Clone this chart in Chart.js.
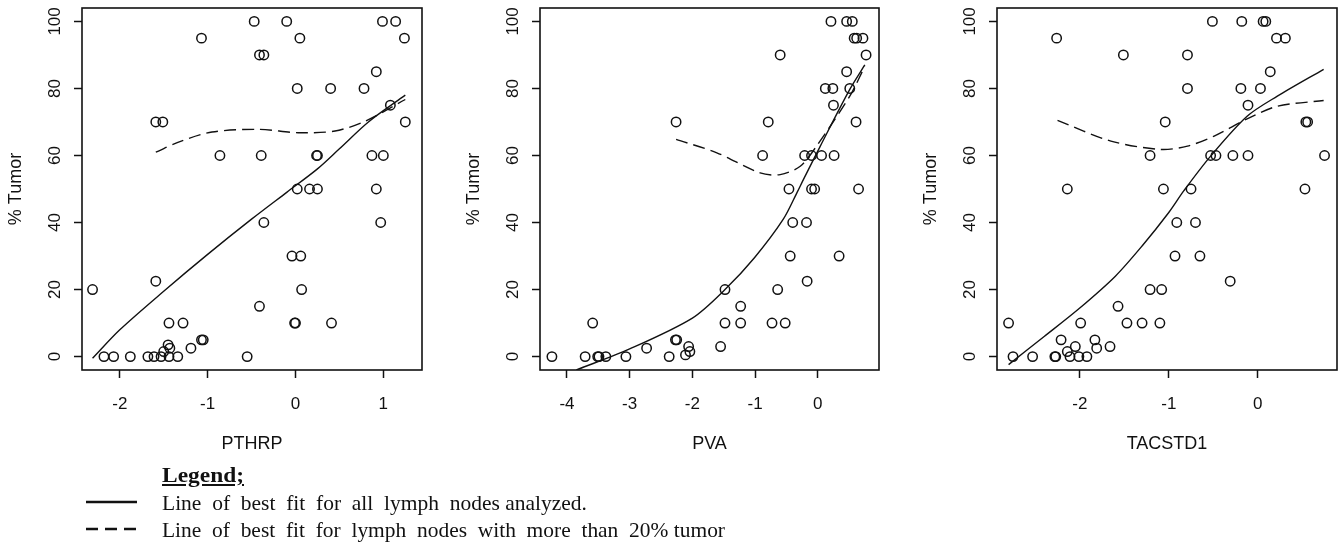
<!DOCTYPE html>
<html>
<head>
<meta charset="utf-8">
<script src="https://cdn.jsdelivr.net/npm/chart.js@4.4.0/dist/chart.umd.min.js"></script>
<style>
  html, body { margin: 0; padding: 0; background: #fff; }
  body { width: 1344px; height: 549px; position: relative; overflow: hidden; }
  canvas { position: absolute; top: 0; }
  .lg { position: absolute; font-family: "Liberation Serif", "Times New Roman", serif; font-size: 22px; line-height: 26px; color: #111; white-space: pre; transform-origin: 0 50%; }
  .lg-title { font-weight: bold; text-decoration: underline; }
  svg.sample { position: absolute; }
</style>
</head>
<body>
<canvas id="c1" width="440" height="470" style="left:0px"></canvas>
<canvas id="c2" width="439" height="470" style="left:458px"></canvas>
<canvas id="c3" width="429" height="470" style="left:915px"></canvas>

<span class="lg lg-title" style="left:162px; top:462px" data-w="82">Legend;</span>
<svg class="sample" style="left:84px; top:496px" width="56" height="12"><line x1="2" y1="6" x2="53" y2="6" stroke="#111" stroke-width="2.4"/></svg>
<span class="lg" style="left:162px; top:490px" data-w="425">Line  of  best  fit  for  all  lymph  nodes analyzed.</span>
<svg class="sample" style="left:84px; top:523px" width="56" height="12"><line x1="2" y1="6" x2="53" y2="6" stroke="#111" stroke-width="2.4" stroke-dasharray="12 7"/></svg>
<span class="lg" style="left:162px; top:517px" data-w="563">Line  of  best  fit  for  lymph  nodes  with  more  than  20% tumor</span>

<script>
// PTHRP panel
const pthrpX = [-0.47, -0.10, 0.99, 1.14, -1.07, 0.05, 1.24, -0.41, -0.36, 0.92,
  0.02, 0.40, 0.78, 1.08, -1.59, -1.51, 1.25, -0.86, -0.39, 0.24,
  0.25, 0.87, 1.00, 0.02, 0.16, 0.25, 0.92, 0.97, -0.36, -0.04,
  0.06, -2.31, 0.07, -1.59, -0.41, -0.01, 0.00, 0.41, -1.44, -1.28,
  -1.07, -1.05, -1.19, -1.45, -1.43, -1.50, -2.18, -2.07, -1.88, -1.68,
  -1.61, -1.53, -1.44, -1.34, -0.55];
const pthrpY = [100, 100, 100, 100, 95, 95, 95, 90, 90, 85,
  80, 80, 80, 75, 70, 70, 70, 60, 60, 60,
  60, 60, 60, 50, 50, 50, 50, 40, 40, 30,
  30, 20, 20, 22.5, 15, 10, 10, 10, 10, 10,
  5, 5, 2.5, 3.5, 2.5, 1.5, 0, 0, 0, 0,
  0, 0, 0, 0, 0];
const pthrpAllX = [-2.31, -2.0, -1.5, -1.0, -0.5, -0.1, 0.25, 0.5, 0.83, 1.25];
const pthrpAllY = [-0.5, 8, 19.5, 30.5, 41, 49, 56, 62, 70, 78];
const pthrpHighX = [-1.59, -1.3, -0.95, -0.42, 0.03, 0.45, 0.79, 1.25];
const pthrpHighY = [61, 64.3, 67, 67.8, 66.8, 67.3, 70.2, 76.7];

// PVA panel
const pvaX = [0.21, 0.46, 0.55, 0.58, 0.62, 0.72, 0.77, -0.60, 0.46, 0.12,
  0.24, 0.51, 0.25, -2.26, -0.79, 0.61, -0.88, -0.21, -0.10, 0.06,
  0.26, -0.46, -0.10, -0.05, 0.65, -0.40, -0.18, -0.44, 0.34, -0.17,
  -1.48, -0.64, -1.23, -1.48, -1.23, -0.73, -0.52, -3.59, -1.55, -2.27,
  -2.25, -2.73, -2.06, -2.04, -2.11, -2.37, -4.24, -3.71, -3.51, -3.49,
  -3.38, -3.06];
const pvaY = [100, 100, 100, 95, 95, 95, 90, 90, 85, 80,
  80, 80, 75, 70, 70, 70, 60, 60, 60, 60,
  60, 50, 50, 50, 50, 40, 40, 30, 30, 22.5,
  20, 20, 15, 10, 10, 10, 10, 10, 3, 5,
  5, 2.5, 3, 1.5, 0.5, 0, 0, 0, 0, 0,
  0, 0];
const pvaAllX = [-3.85, -3.0, -2.0, -1.48, -1.01, -0.55, -0.33, -0.23, 0.04, 0.51, 0.75];
const pvaAllY = [-4, 2.3, 11.5, 20, 29.5, 41, 49, 52.8, 62.8, 79.7, 87];
const pvaHighX = [-2.26, -1.61, -0.92, -0.60, -0.28, -0.02, 0.51, 0.75];
const pvaHighY = [64.8, 60.8, 54.8, 54.3, 56.8, 62.8, 77.7, 86.6];

// TACSTD1 panel
const tacX = [-0.51, -0.18, 0.06, 0.09, -2.26, 0.21, 0.31, -1.51, -0.79, 0.14,
  -0.79, -0.19, 0.03, -0.11, -1.04, 0.54, 0.56, -1.21, -0.53, -0.47,
  -0.28, -0.11, 0.75, -2.14, -1.06, -0.75, 0.53, -0.91, -0.70, -0.93,
  -0.65, -0.31, -1.21, -1.08, -1.57, -2.80, -1.99, -1.47, -1.30, -1.10,
  -2.21, -1.83, -1.66, -1.81, -2.14, -2.05, -2.75, -2.53, -2.28, -2.27,
  -2.11, -2.01, -1.92];
const tacY = [100, 100, 100, 100, 95, 95, 95, 90, 90, 85,
  80, 80, 80, 75, 70, 70, 70, 60, 60, 60,
  60, 60, 60, 50, 50, 50, 50, 40, 40, 30,
  30, 22.5, 20, 20, 15, 10, 10, 10, 10, 10,
  5, 5, 3, 2.5, 1.5, 3, 0, 0, 0, 0,
  0, 0, 0];
const tacAllX = [-2.80, -2.4, -2.0, -1.6, -1.3, -1.0, -0.83, -0.53, -0.12, 0.22, 0.74];
const tacAllY = [-2.4, 6, 14.5, 24, 33, 43, 49.5, 59.8, 71.7, 77.7, 85.7];
const tacHighX = [-2.25, -1.65, -1.09, -0.79, -0.49, -0.12, 0.22, 0.74];
const tacHighY = [70.5, 64.3, 61.8, 62.8, 65.8, 70.9, 74.7, 76.4];

const yTicks = [0, 20, 40, 60, 80, 100];
const pthrpTicks = [-2, -1, 0, 1];
const pvaTicks = [-4, -3, -2, -1, 0];
const tacTicks = [-2, -1, 0];

const ink = "#111";
const sans = "'Liberation Sans', Arial, sans-serif";

const boxPlugin = {
    id: "box",
    afterDraw(chart) {
        const { ctx, chartArea: a } = chart;
        ctx.save();
        ctx.strokeStyle = ink;
        ctx.lineWidth = 1.6;
        ctx.strokeRect(a.left, a.top, a.right - a.left, a.bottom - a.top);
        ctx.restore();
    }
};

function pairs(xs, ys) {
    return xs.map((x, i) => ({ x: x, y: ys[i] }));
}

function makeChart(id, xs, ys, allX, allY, highX, highY, xMin, xMax, xTicks, xName, padRight) {
    return new Chart(document.getElementById(id), {
        type: "scatter",
        data: {
            datasets: [
                {
                    data: pairs(xs, ys),
                    pointStyle: "circle",
                    pointRadius: 4.7,
                    borderColor: ink,
                    borderWidth: 1.5,
                    backgroundColor: "rgba(0,0,0,0)"
                },
                {
                    data: pairs(allX, allY),
                    showLine: true,
                    pointRadius: 0,
                    borderColor: ink,
                    borderWidth: 1.4,
                    tension: 0.3
                },
                {
                    data: pairs(highX, highY),
                    showLine: true,
                    pointRadius: 0,
                    borderColor: ink,
                    borderWidth: 1.4,
                    borderDash: [12, 6],
                    tension: 0.3
                }
            ]
        },
        options: {
            responsive: false,
            animation: false,
            layout: { padding: { left: 0, right: padRight, top: 8, bottom: 11 } },
            plugins: { legend: { display: false }, tooltip: { enabled: false } },
            scales: {
                x: {
                    type: "linear",
                    min: xMin,
                    max: xMax,
                    border: { display: false },
                    grid: { drawOnChartArea: false, tickLength: 8, color: ink, tickWidth: 1.5 },
                    ticks: { color: ink, font: { family: sans, size: 17 }, padding: 16 },
                    afterBuildTicks: s => { s.ticks = xTicks.map(v => ({ value: v })); },
                    afterFit: s => { s.height = 89; s.paddingLeft = 0; s.paddingRight = 0; },
                    title: { display: true, text: xName, color: ink, font: { family: sans, size: 18 }, padding: { top: 0, bottom: 4 } }
                },
                y: {
                    type: "linear",
                    min: -4,
                    max: 104,
                    border: { display: false },
                    grid: { drawOnChartArea: false, tickLength: 8, color: ink, tickWidth: 1.5 },
                    ticks: {
                        color: ink, font: { family: sans, size: 17 }, padding: 5,
                        minRotation: 90, maxRotation: 90, crossAlign: "center"
                    },
                    afterBuildTicks: s => { s.ticks = yTicks.map(v => ({ value: v })); },
                    afterFit: s => { s.width = 82; s.paddingTop = 0; s.paddingBottom = 0; },
                    title: { display: true, text: "% Tumor", color: ink, font: { family: sans, size: 18 }, padding: { top: 5, bottom: 0 } }
                }
            }
        },
        plugins: [boxPlugin]
    });
}

makeChart("c1", pthrpX, pthrpY, pthrpAllX, pthrpAllY, pthrpHighX, pthrpHighY, -2.43, 1.44, pthrpTicks, "PTHRP", 18);
makeChart("c2", pvaX, pvaY, pvaAllX, pvaAllY, pvaHighX, pvaHighY, -4.43, 0.976, pvaTicks, "PVA", 18);
makeChart("c3", tacX, tacY, tacAllX, tacAllY, tacHighX, tacHighY, -2.93, 0.89, tacTicks, "TACSTD1", 7);

// stretch legend text to the widths seen in the figure
document.querySelectorAll(".lg").forEach(el => {
    const want = Number(el.dataset.w);
    const have = el.getBoundingClientRect().width;
    if (have > 0) el.style.transform = `scaleX(${want / have})`;
});
</script>
</body>
</html>
